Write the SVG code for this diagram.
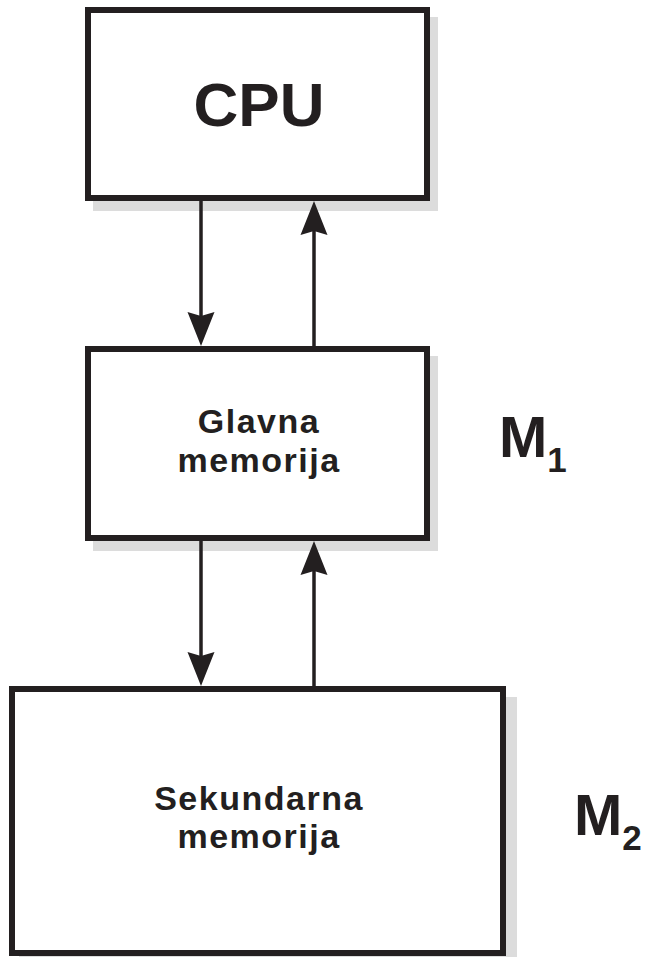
<svg xmlns="http://www.w3.org/2000/svg" width="646" height="957" viewBox="0 0 646 957">
  <style>
    .shadow { fill: #dcdcdc; stroke: none; }
    .box { fill: #ffffff; stroke: #231f20; stroke-width: 6; }
    .lbl { font-family: "Liberation Sans", Arial, sans-serif; font-weight: bold; fill: #231f20; text-anchor: middle; }
    .mid { font-size: 34px; letter-spacing: 1.5px; }
    .big { font-size: 62px; }
    .mlab { font-family: "Liberation Sans", Arial, sans-serif; font-weight: bold; fill: #231f20; }
    .line { stroke: #231f20; stroke-width: 3.5; fill: none; }
    .head { fill: #231f20; stroke: none; }
  </style>
  <rect width="646" height="957" fill="#ffffff"/>

  <g id="cpu">
    <rect class="shadow" x="93" y="17" width="345" height="194"/>
    <rect class="box" x="88" y="10" width="339" height="188"/>
    <text class="lbl big" x="259" y="126">CPU</text>
  </g>

  <g id="glavna">
    <rect class="shadow" x="93" y="356" width="345" height="195"/>
    <rect class="box" x="88" y="349" width="339" height="189"/>
    <text class="lbl mid" x="259" y="433">Glavna</text>
    <text class="lbl mid" x="259" y="472">memorija</text>
  </g>

  <g id="sekundarna">
    <rect class="shadow" x="19" y="697" width="498" height="270"/>
    <rect class="box" x="12" y="689" width="491" height="264"/>
    <text class="lbl mid" x="259" y="810">Sekundarna</text>
    <text class="lbl mid" x="259" y="848">memorija</text>
  </g>

  <g id="m1">
    <text class="mlab" x="499" y="457" font-size="58">M<tspan font-size="35" dy="15">1</tspan></text>
  </g>

  <g id="m2">
    <text class="mlab" x="574" y="835" font-size="58">M<tspan font-size="35" dy="15">2</tspan></text>
  </g>

  <g id="connectors">
    <line class="line" x1="201" y1="201" x2="201" y2="318"/>
    <path class="head" d="M201,346 L187.5,312 L201,316 L214.5,312 Z"/>
    <line class="line" x1="314" y1="346" x2="314" y2="229"/>
    <path class="head" d="M314,201 L300.5,235 L314,231 L327.5,235 Z"/>
    <line class="line" x1="201" y1="541" x2="201" y2="658"/>
    <path class="head" d="M201,686 L187.5,652 L201,656 L214.5,652 Z"/>
    <line class="line" x1="314" y1="686" x2="314" y2="569"/>
    <path class="head" d="M314,541 L300.5,575 L314,571 L327.5,575 Z"/>
  </g>
</svg>
